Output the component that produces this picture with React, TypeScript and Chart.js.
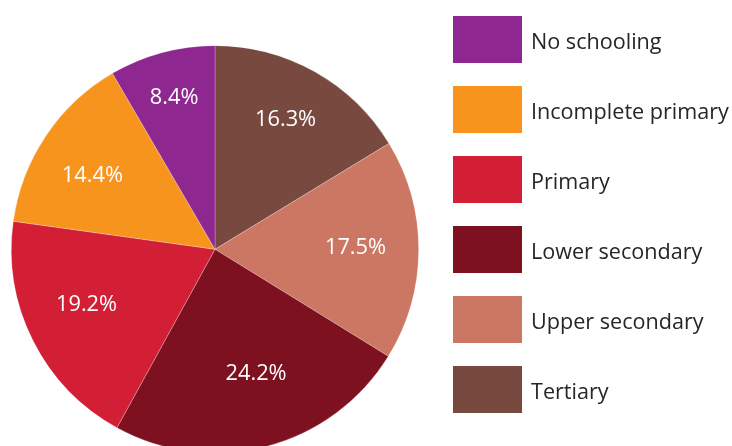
import React, { useEffect, useRef } from "react";
import { Chart, registerables } from "chart.js";

Chart.register(...registerables);

// Data in drawing order: clockwise from 12 o'clock
const categories = ["Tertiary", "Upper secondary", "Lower secondary", "Primary", "Incomplete primary", "No schooling"];
const shares = [16.3, 17.5, 24.2, 19.2, 14.4, 8.4];
const colors = ["#784a3f", "#cb7763", "#7d1120", "#d31f35", "#f7941e", "#8e278f"];
// legend order (top to bottom)
const legendOrder = ["No schooling", "Incomplete primary", "Primary", "Lower secondary", "Upper secondary", "Tertiary"];
// label placement (fraction of radius, angular nudge in degrees)
const labelRadius = [0.73, 0.69, 0.64, 0.685, 0.705, 0.775];
const labelNudge = [-1.0, -1.3, -3.6, 3.7, -2.5, 0.1];

const FONT = "'Open Sans', 'Noto Sans', sans-serif";

const sliceLabels = {
  id: "sliceLabels",
  afterDatasetsDraw(chart: any) {
    const ctx = chart.ctx;
    const meta = chart.getDatasetMeta(0);
    ctx.save();
    ctx.fillStyle = "#ffffff";
    ctx.font = `21.8px ${FONT}`;
    ctx.textAlign = "center";
    ctx.textBaseline = "middle";
    meta.data.forEach((arc: any, i: number) => {
      const p = arc.getProps(["x", "y", "startAngle", "endAngle", "outerRadius"], true);
      const mid = (p.startAngle + p.endAngle) / 2 + (labelNudge[i] * Math.PI) / 180;
      const r = p.outerRadius * labelRadius[i];
      ctx.fillText(shares[i].toFixed(1) + "%", p.x + Math.cos(mid) * r, p.y + Math.sin(mid) * r + 1);
    });
    ctx.restore();
  },
};

const sideLegend = {
  id: "sideLegend",
  afterDraw(chart: any) {
    const ctx = chart.ctx;
    ctx.save();
    ctx.font = `21.6px ${FONT}`;
    ctx.textBaseline = "middle";
    ctx.textAlign = "left";
    legendOrder.forEach((name, k) => {
      const idx = chart.data.labels.indexOf(name);
      const top = 16 + k * 70;
      ctx.fillStyle = chart.data.datasets[0].backgroundColor[idx];
      ctx.fillRect(453, top, 69, 47);
      ctx.fillStyle = "#262626";
      ctx.fillText(name, 531, top + 27);
    });
    ctx.restore();
  },
};

export default function App() {
  const ref = useRef<HTMLCanvasElement>(null);
  useEffect(() => {
    document.body.style.margin = "0";
    const chart = new Chart(ref.current!, {
      type: "pie",
      data: {
        labels: categories,
        datasets: [
          {
            data: shares,
            backgroundColor: colors,
            borderColor: "rgba(255,255,255,0.35)",
            borderWidth: 0.7,
          },
        ],
      },
      options: {
        animation: false,
        responsive: false,
        maintainAspectRatio: false,
        layout: { padding: { left: 11, top: 45.3, right: 313, bottom: 6.7 } },
        plugins: { legend: { display: false }, tooltip: { enabled: false } },
      },
      plugins: [sliceLabels, sideLegend],
    });
    return () => chart.destroy();
  }, []);
  return (
    <div style={{ position: "absolute", left: 0, top: 0, width: 732, height: 446, overflow: "hidden", background: "#fff" }}>
      <canvas ref={ref} width={732} height={460} style={{ display: "block", width: 732, height: 460 }} />
    </div>
  );
}
